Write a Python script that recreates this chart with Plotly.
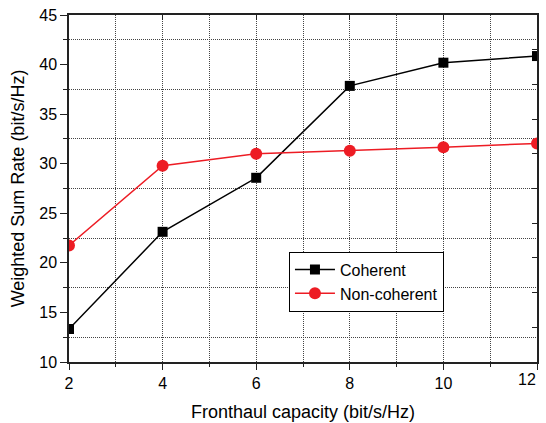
import plotly.graph_objects as go

x_vals = [2, 4, 6, 8, 10, 12]
coherent = [13.33, 23.13, 28.58, 37.85, 40.19, 40.86]
noncoherent = [21.75, 29.79, 31.0, 31.3, 31.65, 32.05]
x_tick_vals = [2, 4, 6, 8, 10, 12]
x_tick_text = ["2", "4", "6", "8", "10", ""]
last_x_label = "12"

font_family = "Liberation Sans, Arial, sans-serif"
red = "#ED1C24"
grid_dash = "1px,1px"

fig = go.Figure()
fig.add_trace(go.Scatter(x=x_vals, y=coherent, mode="lines+markers", name="Coherent",
                         line=dict(color="black", width=1.5),
                         marker=dict(symbol="square", size=10, color="black")))
fig.add_trace(go.Scatter(x=x_vals, y=noncoherent, mode="lines+markers", name="Non-coherent",
                         line=dict(color=red, width=1.5),
                         marker=dict(symbol="circle", size=12, color=red)))

axis_line = dict(showline=True, linecolor="#222", linewidth=1.5, automargin=False)

fig.update_layout(
    width=546, height=423,
    margin=dict(l=69, r=9, t=15, b=61, autoexpand=False),
    plot_bgcolor="white", paper_bgcolor="white",
    font=dict(family=font_family, size=16, color="black"),
    showlegend=True,
    legend=dict(x=0.47, y=0.318, xanchor="left", yanchor="top",
                bordercolor="black", borderwidth=1, bgcolor="white",
                font=dict(size=16), tracegroupgap=0, itemwidth=40),
    xaxis=dict(range=[2, 12], tickvals=x_tick_vals, ticktext=x_tick_text,
               ticks="outside", ticklen=6, tickwidth=1.2,
               tickcolor="#222", showgrid=False, zeroline=False,
               minor=dict(dtick=1, ticks="outside", ticklen=3, tickcolor="#222",
                          showgrid=True, gridcolor="#444", griddash=grid_dash, gridwidth=1),
               title=dict(text="Fronthaul capacity (bit/s/Hz)", font=dict(size=18), standoff=14),
               tickfont=dict(size=16), **axis_line),
    yaxis=dict(range=[10, 45], dtick=5, tick0=10, ticks="outside", ticklen=7, tickwidth=1.2,
               tickcolor="#222", showgrid=False, zeroline=False,
               minor=dict(dtick=2.5, ticks="outside", ticklen=4, tickcolor="#222",
                          showgrid=True, gridcolor="#444", griddash=grid_dash, gridwidth=1),
               title=dict(text="Weighted Sum Rate (bit/s/Hz)", font=dict(size=18), standoff=10),
               tickfont=dict(size=16), **axis_line),
    xaxis2=dict(overlaying="x", side="top", range=[2, 12], dtick=2, tick0=2, ticks="inside",
                ticklen=5, tickwidth=1.2, tickcolor="#222", showticklabels=False,
                showgrid=False, zeroline=False, **axis_line),
    yaxis2=dict(overlaying="y", side="right", range=[0, 10], dtick=1, tick0=0, ticks="inside",
                ticklen=5, tickwidth=1.2, tickcolor="#222", showticklabels=False,
                showgrid=False, zeroline=False, **axis_line),
)
fig.add_annotation(x=12, y=0, xref="x", yref="paper", text=last_x_label, showarrow=False,
                   xanchor="right", yanchor="top", yshift=-7, xshift=1,
                   font=dict(size=16, family=font_family, color="black"))
# invisible trace to activate secondary axes
fig.add_trace(go.Scatter(x=[2], y=[0], xaxis="x2", yaxis="y2", mode="markers",
                         marker=dict(opacity=0), showlegend=False, hoverinfo="skip"))

fig.write_html("out.html")
